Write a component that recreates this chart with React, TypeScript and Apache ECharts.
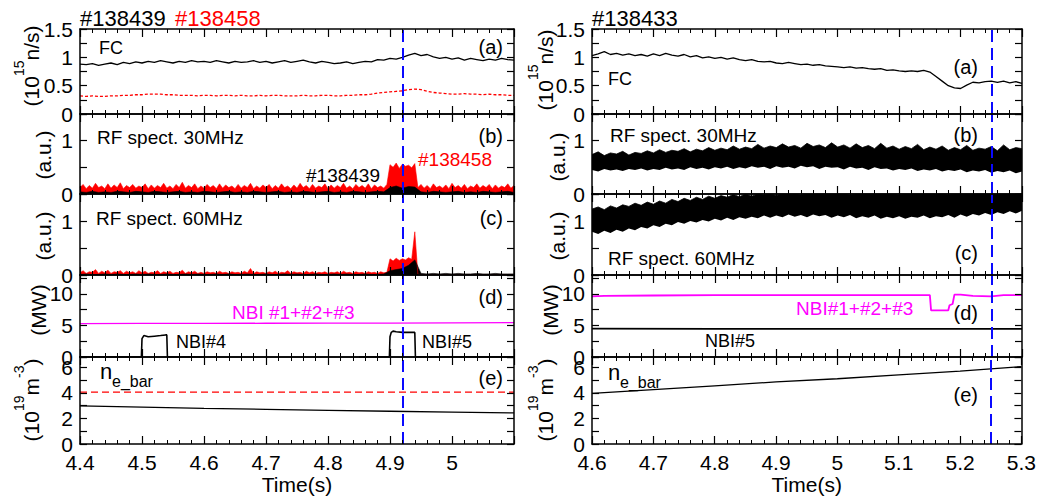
import React, { useEffect, useRef } from 'react';
import * as echarts from 'echarts';

const FONT = '"Liberation Sans", Arial, Helvetica, sans-serif';
const RED = '#ff0000';
const MAG = '#ff00ff';
const BLUE = '#0a0aff';

// ---------- time bases ----------
const T_L = Array.from({ length: 71 }, (_, i) => Math.round((4.4 + i * 0.01) * 1000) / 1000);
const T_L_FINE = Array.from({ length: 141 }, (_, i) => Math.round((4.4 + i * 0.005) * 1000) / 1000);
const T_R = Array.from({ length: 71 }, (_, i) => Math.round((4.6 + i * 0.01) * 1000) / 1000);

// ---------- left column (#138439 black / #138458 red) ----------
const LA_FC_439 = [0.88,0.87,0.89,0.86,0.88,0.90,0.87,0.91,0.89,0.92,
  0.90,0.93,0.91,0.94,0.92,0.90,0.93,0.91,0.94,0.92,
  0.93,0.91,0.94,0.92,0.90,0.93,0.91,0.92,0.94,0.91,
  0.93,0.90,0.92,0.94,0.91,0.93,0.95,0.92,0.90,0.93,
  0.91,0.89,0.90,0.92,0.89,0.91,0.93,0.92,0.96,0.95,
  0.98,0.97,1.00,1.04,1.07,1.03,1.05,1.01,0.98,1.00,
  0.97,0.99,0.95,0.98,0.96,0.94,0.97,0.95,0.98,0.96,0.95];
const LA_FC_458 = [0.32,0.31,0.32,0.31,0.31,0.32,0.32,0.33,0.33,0.34,
  0.34,0.35,0.35,0.35,0.34,0.34,0.33,0.33,0.33,0.32,
  0.33,0.33,0.32,0.33,0.33,0.32,0.33,0.32,0.32,0.33,
  0.32,0.33,0.33,0.32,0.32,0.32,0.33,0.32,0.32,0.33,
  0.33,0.32,0.32,0.33,0.33,0.34,0.34,0.35,0.37,0.38,
  0.39,0.40,0.41,0.43,0.44,0.43,0.40,0.38,0.37,0.36,
  0.35,0.35,0.36,0.35,0.35,0.34,0.35,0.34,0.34,0.33,0.33];

const LB_RF30_458 = [
  0.12,0.18,0.10,0.16,0.11,0.20,0.12,0.15,0.10,0.19,0.11,0.17,0.12,0.21,0.10,0.16,0.12,0.18,0.11,0.15,
  0.12,0.19,0.10,0.17,0.11,0.16,0.12,0.20,0.11,0.15,0.10,0.18,0.12,0.22,0.11,0.16,0.12,0.19,0.10,0.15,
  0.11,0.18,0.12,0.16,0.10,0.19,0.11,0.17,0.12,0.15,0.10,0.18,0.11,0.16,0.12,0.20,0.10,0.15,0.11,0.17,
  0.12,0.18,0.10,0.16,0.11,0.19,0.12,0.15,0.10,0.17,0.11,0.20,0.12,0.16,0.10,0.18,0.11,0.15,0.12,0.19,
  0.10,0.17,0.11,0.16,0.12,0.20,0.11,0.15,0.10,0.18,0.12,0.16,0.11,0.19,0.10,0.17,0.12,0.15,0.11,0.18,
  0.55,0.50,0.58,0.48,0.56,0.52,0.54,0.49,0.57,
  0.12,0.18,0.11,0.16,0.10,0.19,0.12,0.15,0.11,0.17,0.10,0.20,0.12,0.16,0.11,0.18,
  0.10,0.15,0.12,0.19,0.11,0.16,0.12,0.18,0.10,0.17,0.11,0.15,0.12,0.19,0.11,0.16];
const LB_RF30_439 = [0.04,0.03,0.05,0.03,0.04,0.03,0.05,0.04,0.03,0.05,
  0.04,0.03,0.05,0.04,0.03,0.04,0.05,0.03,0.04,0.03,
  0.05,0.04,0.03,0.04,0.05,0.03,0.04,0.03,0.05,0.04,
  0.03,0.04,0.05,0.03,0.04,0.03,0.05,0.04,0.03,0.04,
  0.05,0.03,0.04,0.03,0.05,0.04,0.03,0.04,0.05,0.04,
  0.12,0.15,0.11,0.14,0.13,0.04,0.03,0.05,0.04,0.03,
  0.04,0.05,0.03,0.04,0.03,0.05,0.04,0.03,0.04,0.05,0.03];

const LC_RF60_458 = [
  0.04,0.08,0.03,0.06,0.05,0.10,0.03,0.07,0.04,0.09,0.03,0.06,0.05,0.08,0.03,0.07,0.04,0.06,0.03,0.08,
  0.04,0.07,0.03,0.05,0.04,0.08,0.03,0.06,0.04,0.07,0.03,0.05,0.04,0.09,0.03,0.06,0.04,0.07,0.03,0.05,
  0.03,0.06,0.04,0.05,0.03,0.07,0.04,0.05,0.03,0.06,0.04,0.05,0.03,0.07,0.04,0.12,0.03,0.06,0.04,0.05,
  0.03,0.06,0.04,0.07,0.03,0.05,0.04,0.08,0.03,0.06,0.04,0.05,0.03,0.07,0.04,0.06,0.03,0.05,0.04,0.06,
  0.03,0.05,0.04,0.06,0.03,0.07,0.04,0.05,0.03,0.06,0.04,0.05,0.03,0.06,0.04,0.05,0.03,0.06,0.04,0.05,
  0.30,0.26,0.31,0.27,0.30,0.28,0.32,0.29,0.80,
  0.01,0.01,0.01,0.01,0.01,0.01,0.01,0.01,0.01,0.01,0.01,0.01,0.01,0.01,0.01,0.01,
  0.01,0.01,0.01,0.01,0.01,0.01,0.01,0.01,0.01,0.01,0.01,0.01,0.01,0.01,0.01,0.01];
const LC_RF60_439 = [0.01,0.02,0.01,0.01,0.02,0.01,0.02,0.01,0.01,0.02,
  0.01,0.02,0.01,0.01,0.02,0.01,0.01,0.02,0.01,0.02,
  0.01,0.01,0.02,0.01,0.02,0.01,0.01,0.02,0.01,0.01,
  0.02,0.01,0.01,0.02,0.01,0.02,0.01,0.01,0.02,0.01,
  0.01,0.02,0.01,0.02,0.01,0.01,0.02,0.01,0.01,0.02,
  0.08,0.10,0.12,0.18,0.28,0.03,0.02,0.03,0.02,0.03,
  0.02,0.03,0.02,0.02,0.03,0.02,0.02,0.03,0.02,0.02,0.02];

const LD_T_SUM = [4.4, 4.5, 4.6, 4.7, 4.8, 4.9, 5.0, 5.1];
const LD_NBI_SUM = [5.30, 5.32, 5.33, 5.35, 5.37, 5.38, 5.41, 5.44];
const LD_T_NBI4 = [4.4, 4.499, 4.5, 4.503, 4.51, 4.52, 4.53, 4.538, 4.54, 4.541, 4.6];
const LD_NBI4 = [0, 0, 2.9, 3.4, 3.2, 3.3, 3.4, 3.5, 3.5, 0, 0];
const LD_T_NBI5 = [4.85, 4.899, 4.9, 4.902, 4.905, 4.91, 4.92, 4.93, 4.938, 4.94, 4.941, 5.1];
const LD_NBI5 = [0, 0, 3.2, 3.9, 4.1, 4.0, 3.9, 3.9, 3.9, 3.9, 0, 0];

const LE_T = [4.4, 4.5, 4.6, 4.7, 4.8, 4.9, 5.0, 5.1];
const LE_NE_458 = [4.05, 4.05, 4.05, 4.05, 4.05, 4.05, 4.05, 4.05];
const LE_NE_439 = [2.98, 2.88, 2.79, 2.71, 2.63, 2.56, 2.49, 2.43];

// ---------- right column (#138433) ----------
const RA_FC = [1.03,1.06,1.10,1.05,1.07,1.04,1.06,1.03,1.05,1.02,
  1.06,1.03,1.07,1.04,1.02,1.05,1.01,1.03,0.99,1.01,
  0.98,1.00,0.97,0.99,0.96,0.94,0.96,0.93,0.92,0.93,
  0.90,0.89,0.91,0.89,0.87,0.88,0.86,0.87,0.85,0.84,
  0.83,0.82,0.83,0.81,0.82,0.80,0.79,0.80,0.77,0.78,
  0.76,0.75,0.76,0.75,0.77,0.74,0.66,0.58,0.50,0.46,
  0.45,0.51,0.56,0.55,0.57,0.58,0.56,0.58,0.55,0.57,0.54];

const RB_RF30_HI = [0.74,0.79,0.72,0.77,0.75,0.80,0.73,0.78,0.76,0.81,
  0.77,0.83,0.78,0.82,0.80,0.85,0.79,0.84,0.81,0.87,
  0.82,0.86,0.83,0.90,0.84,0.88,0.85,0.93,0.86,0.90,
  0.87,0.94,0.88,0.91,0.86,0.95,0.89,0.92,0.87,0.96,
  0.88,0.92,0.86,0.94,0.87,0.91,0.85,0.95,0.86,0.90,
  0.84,0.89,0.85,0.93,0.83,0.88,0.84,0.90,0.82,0.87,
  0.83,0.91,0.82,0.86,0.84,0.89,0.81,0.92,0.83,0.87,0.85];
const RB_RF30_LO = [0.45,0.42,0.47,0.44,0.46,0.43,0.47,0.45,0.48,0.44,
  0.47,0.45,0.49,0.46,0.48,0.45,0.50,0.47,0.49,0.46,
  0.50,0.48,0.51,0.47,0.50,0.48,0.52,0.49,0.51,0.47,
  0.52,0.49,0.51,0.48,0.53,0.50,0.52,0.47,0.51,0.49,
  0.50,0.46,0.51,0.48,0.49,0.45,0.50,0.47,0.48,0.44,
  0.47,0.45,0.48,0.43,0.46,0.44,0.47,0.42,0.45,0.43,
  0.46,0.41,0.44,0.42,0.45,0.40,0.43,0.41,0.44,0.39,0.42];

const RC_RF60_HI = [1.22,1.26,1.21,1.28,1.24,1.30,1.27,1.33,1.29,1.35,
  1.31,1.37,1.33,1.40,1.36,1.42,1.38,1.44,1.40,1.46,
  1.42,1.47,1.44,1.49,1.45,1.50,1.46,1.50,1.48,1.50,
  1.47,1.50,1.49,1.50,1.48,1.50,1.50,1.50,1.49,1.50,
  1.50,1.50,1.48,1.50,1.50,1.50,1.49,1.50,1.50,1.50,
  1.48,1.50,1.50,1.50,1.49,1.50,1.50,1.50,1.48,1.50,
  1.50,1.50,1.49,1.50,1.50,1.50,1.49,1.50,1.50,1.50,1.50];
const RC_RF60_LO = [0.80,0.76,0.82,0.78,0.84,0.80,0.86,0.83,0.89,0.86,
  0.92,0.89,0.95,0.92,0.98,0.95,1.00,0.97,1.02,0.99,
  1.04,1.01,1.06,1.02,1.07,1.04,1.08,1.05,1.10,1.06,
  1.10,1.07,1.12,1.08,1.11,1.07,1.12,1.09,1.11,1.06,
  1.10,1.07,1.11,1.05,1.09,1.06,1.10,1.04,1.08,1.05,
  1.09,1.04,1.08,1.06,1.10,1.05,1.09,1.07,1.11,1.06,
  1.12,1.08,1.13,1.10,1.15,1.11,1.16,1.13,1.18,1.14,1.19];

const RD_T_SUM = [4.6, 4.62, 4.7, 4.8, 4.9, 5.0, 5.1, 5.15, 5.152, 5.18, 5.182, 5.187, 5.19, 5.2, 5.22, 5.25, 5.27, 5.3];
const RD_NBI_SUM = [9.6, 9.7, 9.75, 9.8, 9.8, 9.8, 9.8, 9.8, 7.4, 7.4, 8.2, 8.4, 9.9, 9.9, 9.7, 9.6, 9.8, 9.8];
const RD_T_NBI5 = [4.6, 4.8, 5.0, 5.2, 5.3];
const RD_NBI5 = [4.5, 4.45, 4.45, 4.45, 4.45];

const RE_T = [4.6, 4.7, 4.8, 4.9, 5.0, 5.1, 5.2, 5.3];
const RE_NE = [3.95, 4.25, 4.55, 4.85, 5.1, 5.4, 5.7, 6.05];

// ---------- helpers ----------
const zip = (t: number[], v: number[]) => t.map((x, i) => [x, v[i]]);

const COLS = [
  { left: 80, width: 434, min: 4.4, max: 5.1, vline: 4.92, showMax: false },
  { left: 592, width: 430, min: 4.6, max: 5.3, vline: 5.25, showMax: true },
];
const TOPS = [29, 114, 194, 275, 357];
const BOTTOM = 444;

const Y_CFG = [
  { max: 1.5, interval: 0.25, show: (v: number) => Math.abs(v * 2 - Math.round(v * 2)) < 1e-6 },
  { max: 1.5, interval: 0.5, show: (v: number) => v === 0 || v === 1 },
  { max: 1.5, interval: 0.5, show: (v: number) => v === 0 || v === 1 },
  { max: 13, interval: 2.5, show: (v: number) => v % 5 === 0 },
  { max: 6.8, interval: 1, show: (v: number) => v % 2 === 0 },
];

function buildOption() {
  const grid: any[] = [];
  const xAxis: any[] = [];
  const yAxis: any[] = [];
  const tick = { inside: true, length: 8, lineStyle: { color: '#000', width: 1.2 } };
  const axLine = { show: true, onZero: false, lineStyle: { color: '#000', width: 1.5 } };
  COLS.forEach((c, ci) => {
    TOPS.forEach((top, p) => {
      const g = ci * 5 + p;
      const bottomPx = p < 4 ? TOPS[p + 1] : BOTTOM;
      grid.push({ left: c.left, width: c.width, top, height: bottomPx - top, show: false });
      const xBase = {
        type: 'value', gridIndex: g, min: c.min, max: c.max, interval: 0.1, z: 10,
        axisLine: axLine, axisTick: tick,
        minorTick: { show: true, splitNumber: 5, length: 4, lineStyle: { color: '#000', width: 1 } },
        splitLine: { show: false }, minorSplitLine: { show: false },
      };
      xAxis.push({
        ...xBase, position: 'bottom',
        axisLabel: {
          show: p === 4, fontSize: 21, color: '#000', fontFamily: FONT, margin: 8,
          showMaxLabel: c.showMax, showMinLabel: true,
        },
        name: p === 4 ? 'Time(s)' : '', nameLocation: 'middle', nameGap: 26,
        nameTextStyle: { fontSize: 21, color: '#000', fontFamily: FONT },
      });
      xAxis.push({ ...xBase, position: 'top', axisLabel: { show: false } });
      const yc = Y_CFG[p];
      const yBase = {
        type: 'value', gridIndex: g, min: 0, max: yc.max, interval: yc.interval, z: 10,
        axisLine: axLine, axisTick: { ...tick, length: 7 }, splitLine: { show: false },
      };
      yAxis.push({
        ...yBase, position: 'left',
        axisLabel: {
          fontSize: 21, lineHeight: 15, color: '#000', fontFamily: FONT, margin: 7,
          showMaxLabel: true, showMinLabel: true,
          formatter: (v: number) => (yc.show(v) ? String(v) : ''),
        },
      });
      yAxis.push({ ...yBase, position: 'right', axisLabel: { show: false } });
    });
  });

  const vline = (g: number, x: number) => ({
    type: 'line', xAxisIndex: 2 * g, yAxisIndex: 2 * g, data: [], z: 6, silent: true,
    markLine: {
      silent: true, symbol: 'none', animation: false, label: { show: false },
      lineStyle: { color: BLUE, type: [12, 6], width: 2 },
      data: [{ xAxis: x }],
    },
  });
  const line = (g: number, data: any[], color: string, ls: any = {}) => ({
    type: 'line', xAxisIndex: 2 * g, yAxisIndex: 2 * g, data, symbol: 'none', showSymbol: false,
    lineStyle: { color, width: 1.3, ...ls }, itemStyle: { color },
    z: 3, silent: true, clip: true,
  });
  const area = (g: number, data: any[], color: string, lw = 0.6, z = 2) => ({
    type: 'line', xAxisIndex: 2 * g, yAxisIndex: 2 * g, data, symbol: 'none', showSymbol: false,
    lineStyle: { color, width: lw }, itemStyle: { color }, areaStyle: { color, opacity: 1 },
    z, silent: true, clip: true,
  });
  const lv = COLS[0].vline, rv = COLS[1].vline;

  const series: any[] = [
    // left (a)
    line(0, zip(T_L, LA_FC_439), '#000'),
    line(0, zip(T_L, LA_FC_458), RED, { type: [3, 2] }),
    // left (b)
    area(1, zip(T_L_FINE, LB_RF30_458), RED),
    area(1, zip(T_L, LB_RF30_439), '#000'),
    // left (c)
    area(2, zip(T_L_FINE, LC_RF60_458), RED),
    area(2, zip(T_L, LC_RF60_439), '#000'),
    // left (d)
    line(3, zip(LD_T_SUM, LD_NBI_SUM), MAG),
    line(3, zip(LD_T_NBI4, LD_NBI4), '#000', { width: 1.6 }),
    line(3, zip(LD_T_NBI5, LD_NBI5), '#000', { width: 1.6 }),
    // left (e)
    line(4, zip(LE_T, LE_NE_458), RED, { type: [7, 4] }),
    line(4, zip(LE_T, LE_NE_439), '#000'),
    // right (a)
    line(5, zip(T_R, RA_FC), '#000'),
    // right (b): black band = black fill to upper edge, white fill to lower edge
    area(6, zip(T_R, RB_RF30_HI), '#000', 0.8, 2),
    area(6, zip(T_R, RB_RF30_LO), '#ffffff', 0, 3),
    // right (c)
    area(7, zip(T_R, RC_RF60_HI), '#000', 0.8, 2),
    area(7, zip(T_R, RC_RF60_LO), '#ffffff', 0, 3),
    // right (d)
    line(8, zip(RD_T_SUM, RD_NBI_SUM), MAG, { width: 1.8 }),
    line(8, zip(RD_T_NBI5, RD_NBI5), '#000', { width: 1.8 }),
    // right (e)
    line(9, zip(RE_T, RE_NE), '#000'),
  ];
  for (let g = 0; g < 10; g++) series.push(vline(g, g < 5 ? lv : rv));

  const T = (text: string, x: number, y: number, o: any = {}) => ({
    type: 'text', x, y, silent: true, z: 100, rotation: o.rot || 0,
    style: {
      text, fill: o.fill || '#000', fontSize: o.size || 19, fontFamily: FONT,
      align: o.align || 'left', textAlign: o.align || 'left',
      verticalAlign: o.va || 'middle', textVerticalAlign: o.va || 'middle',
      rich: o.rich,
    },
  });
  const supRich = {
    n: { fontSize: 21, fontFamily: FONT, lineHeight: 30, verticalAlign: 'bottom', fill: '#000' },
    s: { fontSize: 14, fontFamily: FONT, lineHeight: 16, verticalAlign: 'top', fill: '#000' },
  };
  const nameFlux = '{n|(10}{s|15}{n|n/s)}';
  const nameDens = '{n|(10}{s|19}{n|m}{s|-3}{n|)}';
  const R = Math.PI / 2;

  const graphic: any[] = [
    // headers
    T('#138439', 80, 18, { size: 22 }),
    T('#138458', 175, 18, { size: 22, fill: RED }),
    T('#138433', 592, 18, { size: 22 }),
    // left y names
    T(nameFlux, 27, 66, { rot: R, align: 'center', rich: supRich }),
    T('(a.u.)', 43, 155, { rot: R, align: 'center', size: 21 }),
    T('(a.u.)', 43, 236, { rot: R, align: 'center', size: 21 }),
    T('(MW)', 38, 310, { rot: R, align: 'center', size: 21 }),
    T(nameDens, 27, 400, { rot: R, align: 'center', rich: supRich }),
    // right y names
    T(nameFlux, 541, 70, { rot: R, align: 'center', rich: supRich }),
    T('(a.u.)', 557, 157, { rot: R, align: 'center', size: 21 }),
    T('(a.u.)', 557, 236, { rot: R, align: 'center', size: 21 }),
    T('(MW)', 550, 310, { rot: R, align: 'center', size: 21 }),
    T(nameDens, 541, 400, { rot: R, align: 'center', rich: supRich }),
    // left annotations
    T('FC', 99, 48, { size: 18 }),
    T('(a)', 503, 47, { align: 'right', size: 20 }),
    T('RF spect. 30MHz', 97, 137),
    T('(b)', 503, 136, { align: 'right', size: 20 }),
    T('#138439', 380, 175, { align: 'right' }),
    T('#138458', 418, 159, { fill: RED }),
    T('RF spect. 60MHz', 96, 218),
    T('(c)', 503, 218, { align: 'right', size: 20 }),
    T('NBI #1+#2+#3', 232, 312, { fill: MAG }),
    T('(d)', 503, 297, { align: 'right', size: 20 }),
    T('NBI#4', 176, 342, { size: 18 }),
    T('NBI#5', 422, 342, { size: 18 }),
    T('n', 100, 371, { size: 22 }),
    T('e_bar', 112, 381, { size: 16 }),
    T('(e)', 503, 378, { align: 'right', size: 20 }),
    // right annotations
    T('FC', 608, 79, { size: 18 }),
    T('(a)', 978, 67, { align: 'right', size: 20 }),
    T('RF spect. 30MHz', 610, 135),
    T('(b)', 978, 135, { align: 'right', size: 20 }),
    T('RF spect. 60MHz', 608, 258),
    T('(c)', 978, 253, { align: 'right', size: 20 }),
    T('NBI#1+#2+#3', 796, 308, { fill: MAG }),
    T('(d)', 978, 313, { align: 'right', size: 20 }),
    T('NBI#5', 705, 341, { size: 18 }),
    T('n', 608, 372, { size: 22 }),
    T('e_bar', 620, 382, { size: 16 }),
    T('(e)', 978, 395, { align: 'right', size: 20 }),
  ];

  return {
    animation: false,
    backgroundColor: '#ffffff',
    textStyle: { fontFamily: FONT },
    grid, xAxis, yAxis, series, graphic,
  };
}

export default function App() {
  const ref = useRef<HTMLDivElement>(null);
  useEffect(() => {
    if (!ref.current) return;
    const chart = echarts.init(ref.current, undefined, { renderer: 'svg' });
    chart.setOption(buildOption() as any);
    return () => chart.dispose();
  }, []);
  return (
    <div
      ref={ref}
      style={{ position: 'absolute', left: 0, top: 0, width: 1039, height: 500, background: '#fff' }}
    />
  );
}
